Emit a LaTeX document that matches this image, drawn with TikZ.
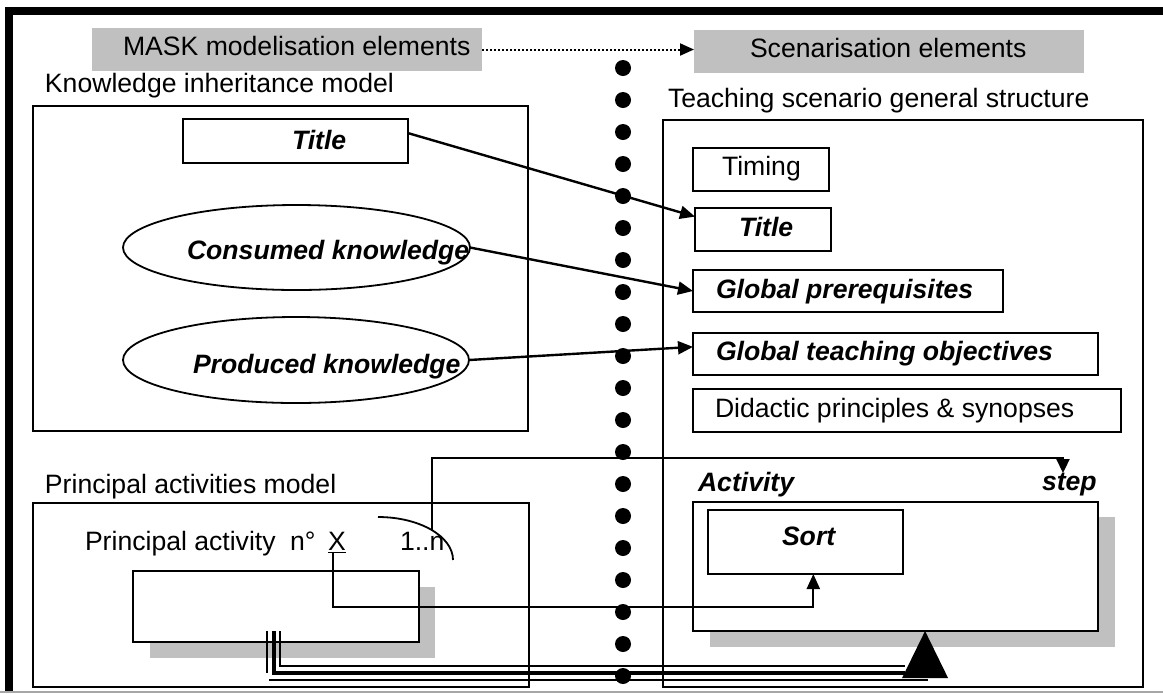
\documentclass[tikz,border=0pt]{standalone}
\usepackage{fontspec}
\setmainfont{Liberation Sans}
\usetikzlibrary{arrows.meta,shapes.geometric,calc}
\definecolor{greyfill}{RGB}{192,192,192}
\begin{document}
\begin{tikzpicture}[x=0.5pt,y=-0.5pt,
  every node/.style={inner sep=0pt, outer sep=0pt},
  lbl/.style={anchor=base west, font=\fontsize{13.3}{16}\selectfont},
  lblb/.style={lbl, font=\fontsize{13.3}{16}\selectfont\bfseries\itshape},
  box/.style={draw, line width=1.1pt, rectangle},
  greybox/.style={fill=greyfill, rectangle},
  oval/.style={draw, line width=0.9pt, ellipse},
  conn/.style={line width=1.2pt, -{Triangle[length=7.5pt,width=6.5pt]}},
  dotmark/.style={circle, fill=black, minimum size=8pt},
]
\useasboundingbox (0,0) rectangle (1163,693);
% frame
\draw[line width=4pt] (5,11) -- (1163,11);
\draw[line width=4pt] (9,7) -- (9,693);
\draw[line width=0.6pt, gray!70] (0,692) -- (1163,692);
% headers
\node[greybox, minimum width=195pt, minimum height=21.5pt] (mask) at (287,49.5) {};
\node[greybox, minimum width=195pt, minimum height=21.5pt] (scen) at (889,51.5) {};
\node[lbl] (masktxt) at (123,55) {MASK modelisation elements};
\node[lbl] (scentxt) at (750,57) {Scenarisation elements};
\draw[line width=1pt, dash pattern=on 1pt off 1pt, -{Triangle[length=7pt,width=6pt]}] (mask.east) -- (mask.east -| scen.west);
% dots
\foreach \k in {0,...,19} \node[dotmark] (d\k) at (623,{68+32*\k}) {};
% knowledge inheritance model
\node[lbl] (kimtxt) at (45,92) {Knowledge inheritance model};
\node[box, minimum width=247.5pt, minimum height=162.5pt] (kim) at (280.5,268.5) {};
\node[box, minimum width=112.5pt, minimum height=22pt] (titleL) at (295.5,141) {};
\node[lblb] (titleLtxt) at (292,149) {Title};
\node[oval, minimum width=173.5pt, minimum height=42.5pt] (cons) at (296.5,247.5) {};
\node[lblb] (constxt) at (187,259) {Consumed knowledge};
\node[oval, minimum width=173pt, minimum height=43pt] (prod) at (296,360) {};
\node[lblb] (prodtxt) at (193,373) {Produced knowledge};
% teaching scenario
\node[lbl] (tsgstxt) at (668,107) {Teaching scenario general structure};
\node[box, minimum width=240pt, minimum height=283.5pt] (tsgs) at (903,403.5) {};
\node[box, minimum width=68pt, minimum height=21.5pt] (timing) at (761,169.5) {};
\node[lbl] (timingtxt) at (722,175) {Timing};
\node[box, minimum width=68pt, minimum height=21.5pt] (titleR) at (763,229.5) {};
\node[lblb] (titleRtxt) at (739,236) {Title};
\node[box, minimum width=155pt, minimum height=21pt] (prereq) at (848,291) {};
\node[lblb] (prereqtxt) at (716,298) {Global prerequisites};
\node[box, minimum width=202.5pt, minimum height=21pt] (obj) at (895.5,354) {};
\node[lblb] (objtxt) at (716,360) {Global teaching objectives};
\node[box, minimum width=214pt, minimum height=21.5pt] (didac) at (907,410.5) {};
\node[lbl] (didactxt) at (715,417) {Didactic principles \& synopses};
% principal activities model
\node[lbl] (pamtxt) at (45,493) {Principal activities model};
\node[box, minimum width=248pt, minimum height=92pt] (pam) at (281,595) {};
\node[lbl] (patxt) at (85,550) {Principal activity};
\node[lbl] (notxt) at (290,550) {n°};
\node[lbl] (xlab) at (328,550) {\underline{X}};
\node[lbl] (multtxt) at (400,550) {1..n};
\fill[greyfill] (150,587) rectangle (435,658);
\node[box, fill=white, minimum width=143pt, minimum height=35.5pt] (pa) at (276,606.5) {};
% activity step
\node[lblb] (acttxt) at (698,491) {Activity};
\node[lblb] (steptxt) at (1042,490) {step};
\fill[greyfill] (710,517) rectangle (1115,647);
\node[box, fill=white, minimum width=202.5pt, minimum height=64.5pt] (act) at (895.5,566.5) {};
\node[box, minimum width=97.5pt, minimum height=32pt] (sort) at (805.5,542) {};
\node[lblb] (sorttxt) at (782,545) {Sort};
% connectors
\draw[conn] ($(titleL.north east)!0.32!(titleL.south east)$) -- ($(titleR.north west)!0.2!(titleR.south west)$);
\draw[conn] (cons.east) -- (prereq.west);
\draw[conn] (prod.east) -- ($(obj.north west)!0.33!(obj.south west)$);
% multiplicity arc and step link
\draw[line width=0.9pt] (378,517) arc[start angle=-90, end angle=0, x radius=75, y radius=43];
\coordinate (arcpt) at (432,530);
\coordinate (steptip) at (1063,473);
\draw[line width=1.1pt, -{Triangle[length=7pt,width=6.5pt]}] (arcpt) -- (432,458) -| (steptip);
% X to sort
\coordinate (xbot) at (333,553);
\coordinate (sortin) at ($(sort.south west)!0.54!(sort.south east)$);
\draw[line width=1.1pt, -{Triangle[length=7.5pt,width=6.5pt]}] (xbot) -- (333,607) -| (sortin);
% triple line to activity
\coordinate (tri) at ($(act.south west)!0.573!(act.south east)$);
\draw[line width=2.2pt] (274,631) -- (274,673) -- (905,673);
\draw[line width=0.9pt] (267,631) -- (267,673);
\draw[line width=0.9pt] (280,631) -- (280,666) -- (905,666);
\draw[line width=0.9pt] (269,680) -- (928,680);
\fill (tri) -- ++(23,47) -- ++(-46,0) -- cycle;
\end{tikzpicture}
\end{document}
